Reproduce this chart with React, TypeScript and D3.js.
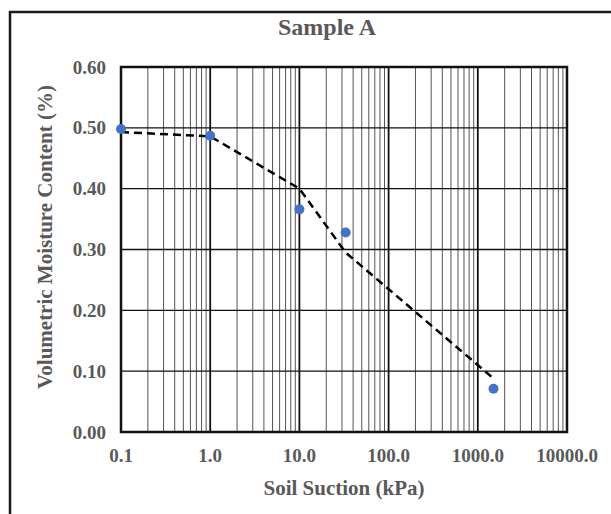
import React, { useEffect, useRef } from 'react';
import * as d3 from 'd3';

// measured points
const suction = [0.1, 1.0, 10, 33, 1500];
const moisture = [0.498, 0.487, 0.366, 0.328, 0.071];

// fitted curve (dashed)
const fitSuction = [0.1, 1.0, 10, 33, 1500];
const fitMoisture = [0.493, 0.486, 0.4, 0.295, 0.088];

const xTicks = [0.1, 1, 10, 100, 1000, 10000];
const yTicks = [0, 0.1, 0.2, 0.3, 0.4, 0.5, 0.6];

const W = 611;
const H = 514;

const App = () => {
  const svgRef = useRef<SVGSVGElement>(null);

  useEffect(() => {
    const svg = d3.select(svgRef.current);
    svg.selectAll('*').remove();

    const margin = { top: 67, right: 44, bottom: 82, left: 121 };
    const font = '"Liberation Serif", "Times New Roman", serif';
    const textColor = '#595959';

    const x = d3.scaleLog()
      .domain([0.1, 10000])
      .range([margin.left, W - margin.right]);

    const y = d3.scaleLinear()
      .domain([0, 0.6])
      .range([H - margin.bottom, margin.top]);

    // outer frame
    svg.append('rect')
      .attr('x', 10).attr('y', 12)
      .attr('width', W + 20).attr('height', H + 20)
      .attr('fill', 'none')
      .attr('stroke', '#1a1a1a')
      .attr('stroke-width', 2.5);

    // minor vertical grid
    const minor: number[] = [];
    for (let e = -1; e < 4; e++) {
      for (let m = 2; m <= 9; m++) minor.push(m * Math.pow(10, e));
    }
    svg.append('g').selectAll('line')
      .data(minor)
      .enter().append('line')
      .attr('x1', d => x(d)).attr('x2', d => x(d))
      .attr('y1', y(0)).attr('y2', y(0.6))
      .attr('stroke', '#555')
      .attr('stroke-width', 1);

    // major vertical grid
    svg.append('g').selectAll('line')
      .data(xTicks)
      .enter().append('line')
      .attr('x1', d => x(d)).attr('x2', d => x(d))
      .attr('y1', y(0)).attr('y2', y(0.6))
      .attr('stroke', '#111')
      .attr('stroke-width', 1.8);

    // horizontal grid
    svg.append('g').selectAll('line')
      .data(yTicks)
      .enter().append('line')
      .attr('x1', x(0.1)).attr('x2', x(10000))
      .attr('y1', d => y(d)).attr('y2', d => y(d))
      .attr('stroke', '#111')
      .attr('stroke-width', 1.3);

    // plot border
    svg.append('rect')
      .attr('x', x(0.1)).attr('y', y(0.6))
      .attr('width', x(10000) - x(0.1))
      .attr('height', y(0) - y(0.6))
      .attr('fill', 'none')
      .attr('stroke', '#111')
      .attr('stroke-width', 2.5);

    // dashed fit line
    const line = d3.line<number>()
      .x((d, i) => x(fitSuction[i]))
      .y(d => y(d));
    svg.append('path')
      .datum(fitMoisture)
      .attr('d', line)
      .attr('fill', 'none')
      .attr('stroke', '#000')
      .attr('stroke-width', 2.5)
      .attr('stroke-dasharray', '8,5');

    // measured points
    svg.append('g').selectAll('circle')
      .data(moisture)
      .enter().append('circle')
      .attr('cx', (d, i) => x(suction[i]))
      .attr('cy', d => y(d))
      .attr('r', 5)
      .attr('fill', '#4472C4');

    // y tick labels
    svg.append('g').selectAll('text')
      .data(yTicks)
      .enter().append('text')
      .attr('x', x(0.1) - 15)
      .attr('y', d => y(d))
      .attr('dy', '0.35em')
      .attr('text-anchor', 'end')
      .attr('font-family', font)
      .attr('font-weight', 'bold')
      .attr('font-size', 19)
      .attr('fill', textColor)
      .text(d => d.toFixed(2));

    // x tick labels
    svg.append('g').selectAll('text')
      .data(xTicks)
      .enter().append('text')
      .attr('x', d => x(d))
      .attr('y', 462)
      .attr('text-anchor', 'middle')
      .attr('font-family', font)
      .attr('font-weight', 'bold')
      .attr('font-size', 19)
      .attr('fill', textColor)
      .text(d => d.toFixed(1));

    // title
    svg.append('text')
      .attr('x', 327)
      .attr('y', 35)
      .attr('text-anchor', 'middle')
      .attr('font-family', font)
      .attr('font-weight', 'bold')
      .attr('font-size', 24)
      .attr('fill', textColor)
      .text('Sample A');

    // x axis title
    svg.append('text')
      .attr('x', (x(0.1) + x(10000)) / 2)
      .attr('y', 495)
      .attr('text-anchor', 'middle')
      .attr('font-family', font)
      .attr('font-weight', 'bold')
      .attr('font-size', 21)
      .attr('fill', textColor)
      .text('Soil Suction (kPa)');

    // y axis title
    svg.append('text')
      .attr('transform', 'rotate(-90)')
      .attr('x', -237)
      .attr('y', 52)
      .attr('text-anchor', 'middle')
      .attr('font-family', font)
      .attr('font-weight', 'bold')
      .attr('font-size', 21)
      .attr('fill', textColor)
      .text('Volumetric Moisture Content (%)');
  }, []);

  return (
    <svg
      ref={svgRef}
      width={W}
      height={H}
      style={{ position: 'absolute', left: 0, top: 0, background: '#fff' }}
    />
  );
};

export default App;
